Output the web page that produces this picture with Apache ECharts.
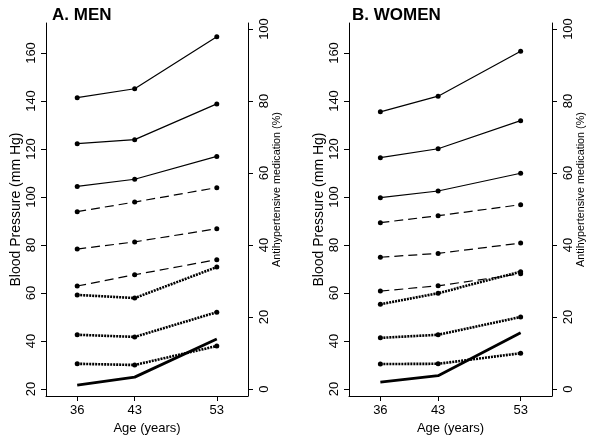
<!DOCTYPE html>
<html><head><meta charset="utf-8">
<script src="https://cdn.jsdelivr.net/npm/echarts@6/dist/echarts.min.js"></script>
<style>html,body{margin:0;padding:0;background:#fff}#c{width:600px;height:441px}</style>
</head><body><div id="c"></div>
<script>
const ages = [36, 43, 53];
const bpTicks = [20, 40, 60, 80, 100, 120, 140, 160];
const pctTicks = [0, 20, 40, 60, 80, 100];
const panelTitles = ['A. MEN', 'B. WOMEN'];
const xName = 'Age (years)';
const leftName = 'Blood Pressure (mm Hg)';
const rightName = 'Antihypertensive medication (%)';

// Men (blood pressure, mm Hg)
const menSolid1 = [141.4, 145.1, 166.8];
const menSolid2 = [122.2, 123.9, 138.8];
const menSolid3 = [104.4, 107.4, 116.9];
const menDashed1 = [93.9, 97.9, 103.9];
const menDashed2 = [78.3, 81.3, 86.8];
const menDashed3 = [62.9, 67.6, 73.9];
const menDotted1 = [59.2, 57.9, 70.8];
const menDotted2 = [42.6, 41.7, 52.0];
const menDotted3 = [30.5, 30.0, 37.9];
// Men antihypertensive medication (%)
const menMeds = [1.1, 3.3, 13.9];

// Women (blood pressure, mm Hg)
const womenSolid1 = [135.5, 142.0, 160.7];
const womenSolid2 = [116.4, 120.1, 131.8];
const womenSolid3 = [99.7, 102.5, 109.9];
const womenDashed1 = [89.3, 92.2, 96.8];
const womenDashed2 = [74.9, 76.5, 80.8];
const womenDashed3 = [60.8, 63.0, 68.0];
const womenDotted1 = [55.3, 59.9, 68.9];
const womenDotted2 = [41.3, 42.6, 50.0];
const womenDotted3 = [30.4, 30.5, 34.9];
// Women antihypertensive medication (%)
const womenMeds = [1.9, 3.7, 15.6];

const FONT = "'Liberation Sans', Arial, sans-serif";
const TXT = '#000';

const styles = {
  solid: {width: 1.2, type: 'solid', marker: true},
  dashed: {width: 1.2, type: [9, 5], marker: true},
  dotted: {width: 2.6, type: [2, 1], marker: true},
  thick: {width: 2.8, type: 'solid', marker: false}
};

function mk(vals, st, xi, yi) {
  const s = styles[st];
  return {
    type: 'line', xAxisIndex: xi, yAxisIndex: yi,
    data: ages.map((a, i) => [a, vals[i]]),
    symbol: s.marker ? 'circle' : 'none', symbolSize: 5,
    showSymbol: s.marker,
    itemStyle: {color: '#000'},
    lineStyle: {color: '#000', width: s.width, type: s.type},
    silent: true, animation: false
  };
}

const grids = [
  {left: 46, right: 352, top: 23, bottom: 45},
  {left: 349, right: 48, top: 23, bottom: 45}
];

const xAxes = [0, 1].map(g => ({
  type: 'value', gridIndex: g, min: 32.2, max: 56.8,
  axisLine: {show: true, onZero: false, lineStyle: {color: '#000', width: 1}},
  axisTick: {show: true, customValues: ages, length: 5, lineStyle: {color: '#000'}},
  axisLabel: {customValues: ages, fontSize: 13, color: TXT, fontFamily: FONT, margin: 8},
  splitLine: {show: false},
  name: xName, nameLocation: 'middle', nameGap: 20,
  nameTextStyle: {fontSize: 13, color: TXT, fontFamily: FONT}
}));

const yAxes = [];
[0, 1].forEach(g => {
  yAxes.push({
    type: 'value', gridIndex: g, position: 'left', min: 17.08, max: 172.5,
    axisLine: {show: true, onZero: false, lineStyle: {color: '#000', width: 1}},
    axisTick: {show: true, customValues: bpTicks, length: 5, lineStyle: {color: '#000'}},
    axisLabel: {customValues: bpTicks, rotate: 90, fontSize: 13, color: TXT, fontFamily: FONT, margin: 8},
    splitLine: {show: false},
    name: leftName, nameLocation: 'middle', nameRotate: 90, nameGap: 23,
    nameTextStyle: {fontSize: 14, color: TXT, fontFamily: FONT}
  });
  yAxes.push({
    type: 'value', gridIndex: g, position: 'right', min: -1.94, max: 101.67,
    axisLine: {show: true, onZero: false, lineStyle: {color: '#000', width: 1}},
    axisTick: {show: true, customValues: pctTicks, length: 5, lineStyle: {color: '#000'}},
    axisLabel: {customValues: pctTicks, rotate: 90, fontSize: 13, color: TXT, fontFamily: FONT, margin: 10},
    splitLine: {show: false},
    name: rightName, nameLocation: 'middle', nameRotate: 90, nameGap: 22,
    nameTextStyle: {fontSize: 10.8, color: TXT, fontFamily: FONT, padding: [0, 0, 0, 40]}
  });
});

const panels = [
  [menSolid1, menSolid2, menSolid3, menDashed1, menDashed2, menDashed3, menDotted1, menDotted2, menDotted3, menMeds],
  [womenSolid1, womenSolid2, womenSolid3, womenDashed1, womenDashed2, womenDashed3, womenDotted1, womenDotted2, womenDotted3, womenMeds]
];
const kinds = ['solid', 'solid', 'solid', 'dashed', 'dashed', 'dashed', 'dotted', 'dotted', 'dotted', 'thick'];

const series = [];
panels.forEach((arrs, p) => {
  arrs.forEach((vals, i) => {
    const isMeds = kinds[i] === 'thick';
    series.push(mk(vals, kinds[i], p, p * 2 + (isMeds ? 1 : 0)));
  });
});

const chart = echarts.init(document.getElementById('c'), null, {renderer: 'canvas'});
chart.setOption({
  animation: false,
  backgroundColor: '#fff',
  title: [
    {text: panelTitles[0], left: 47, top: 2, textStyle: {fontSize: 17, fontWeight: 'bold', color: TXT, fontFamily: FONT}},
    {text: panelTitles[1], left: 347, top: 2, textStyle: {fontSize: 17, fontWeight: 'bold', color: TXT, fontFamily: FONT}}
  ],
  grid: grids,
  xAxis: xAxes,
  yAxis: yAxes,
  series: series
});
</script>
</body></html>
